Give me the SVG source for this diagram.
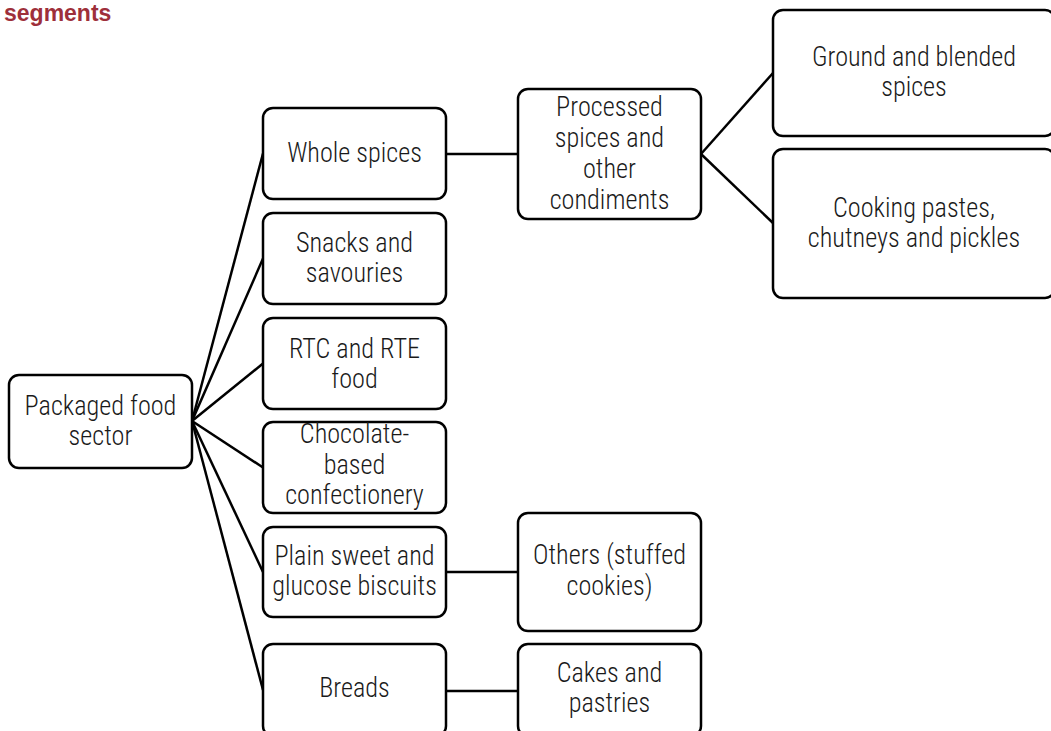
<svg xmlns="http://www.w3.org/2000/svg" width="1051" height="731" viewBox="0 0 1051 731">
<style>
.box{fill:#fff;stroke:#000;stroke-width:2.5}
.t{font-family:"Roboto Condensed","Liberation Sans Narrow","Arial Narrow","DejaVu Sans Condensed","Liberation Sans",sans-serif;font-stretch:condensed;font-weight:300;font-size:28.5px;fill:#1a1a1a;text-anchor:middle}
.c{stroke:#000;stroke-width:2.5;fill:none}
.title{font-family:"Liberation Sans",Arial,sans-serif;font-weight:bold;font-size:23px;fill:#9e2f3a}
</style>
<rect width="1051" height="731" fill="#fff"/>
<text class="title" x="4" y="21">segments</text>
<g id="connectors">
<line class="c" x1="192" y1="421" x2="263" y2="153.5"/>
<line class="c" x1="192" y1="421" x2="263" y2="258.5"/>
<line class="c" x1="192" y1="421" x2="263" y2="363.5"/>
<line class="c" x1="192" y1="421" x2="263" y2="467.5"/>
<line class="c" x1="192" y1="421" x2="263" y2="572"/>
<line class="c" x1="192" y1="421" x2="263" y2="690"/>
<line class="c" x1="446" y1="154" x2="518" y2="154"/>
<line class="c" x1="701" y1="154" x2="773" y2="73"/>
<line class="c" x1="701" y1="154" x2="773" y2="223"/>
<line class="c" x1="446" y1="572" x2="518" y2="572"/>
<line class="c" x1="446" y1="691" x2="518" y2="691"/>
</g>
<g id="root"><rect class="box" x="9" y="375" width="183" height="93" rx="10"/><g transform="matrix(.92 0 0 1 100.5 0)"><text class="t" x="0" y="415">Packaged food</text><text class="t" x="0" y="445">sector</text></g></g>
<g id="whole"><rect class="box" x="263" y="108" width="183" height="91" rx="10"/><g transform="matrix(.92 0 0 1 354.5 0)"><text class="t" x="0" y="162">Whole spices</text></g></g>
<g id="snacks"><rect class="box" x="263" y="213" width="183" height="91" rx="10"/><g transform="matrix(.92 0 0 1 354.5 0)"><text class="t" x="0" y="252">Snacks and</text><text class="t" x="0" y="282">savouries</text></g></g>
<g id="rtc"><rect class="box" x="263" y="318" width="183" height="91" rx="10"/><g transform="matrix(.92 0 0 1 354.5 0)"><text class="t" x="0" y="358">RTC and RTE</text><text class="t" x="0" y="388">food</text></g></g>
<g id="choc"><rect class="box" x="263" y="422" width="183" height="91" rx="10"/><g transform="matrix(.92 0 0 1 354.5 0)"><text class="t" x="0" y="443">Chocolate-</text><text class="t" x="0" y="474">based</text><text class="t" x="0" y="504">confectionery</text></g></g>
<g id="plain"><rect class="box" x="263" y="527" width="183" height="90" rx="10"/><g transform="matrix(.92 0 0 1 354.5 0)"><text class="t" x="0" y="565">Plain sweet and</text><text class="t" x="0" y="595">glucose biscuits</text></g></g>
<g id="breads"><rect class="box" x="263" y="644" width="183" height="92" rx="10"/><g transform="matrix(.92 0 0 1 354.5 0)"><text class="t" x="0" y="697">Breads</text></g></g>
<g id="processed"><rect class="box" x="518" y="89" width="183" height="130" rx="10"/><g transform="matrix(.92 0 0 1 609.5 0)"><text class="t" x="0" y="116">Processed</text><text class="t" x="0" y="147">spices and</text><text class="t" x="0" y="178">other</text><text class="t" x="0" y="209">condiments</text></g></g>
<g id="others"><rect class="box" x="518" y="513" width="183" height="118" rx="10"/><g transform="matrix(.92 0 0 1 609.5 0)"><text class="t" x="0" y="564">Others (stuffed</text><text class="t" x="0" y="595">cookies)</text></g></g>
<g id="cakes"><rect class="box" x="518" y="644" width="183" height="92" rx="10"/><g transform="matrix(.92 0 0 1 609.5 0)"><text class="t" x="0" y="682">Cakes and</text><text class="t" x="0" y="712">pastries</text></g></g>
<g id="ground"><rect class="box" x="773" y="10" width="282" height="126" rx="10"/><g transform="matrix(.92 0 0 1 914 0)"><text class="t" x="0" y="66">Ground and blended</text><text class="t" x="0" y="96">spices</text></g></g>
<g id="cooking"><rect class="box" x="773" y="149" width="282" height="149" rx="10"/><g transform="matrix(.92 0 0 1 914 0)"><text class="t" x="0" y="217">Cooking pastes,</text><text class="t" x="0" y="247">chutneys and pickles</text></g></g>
</svg>
